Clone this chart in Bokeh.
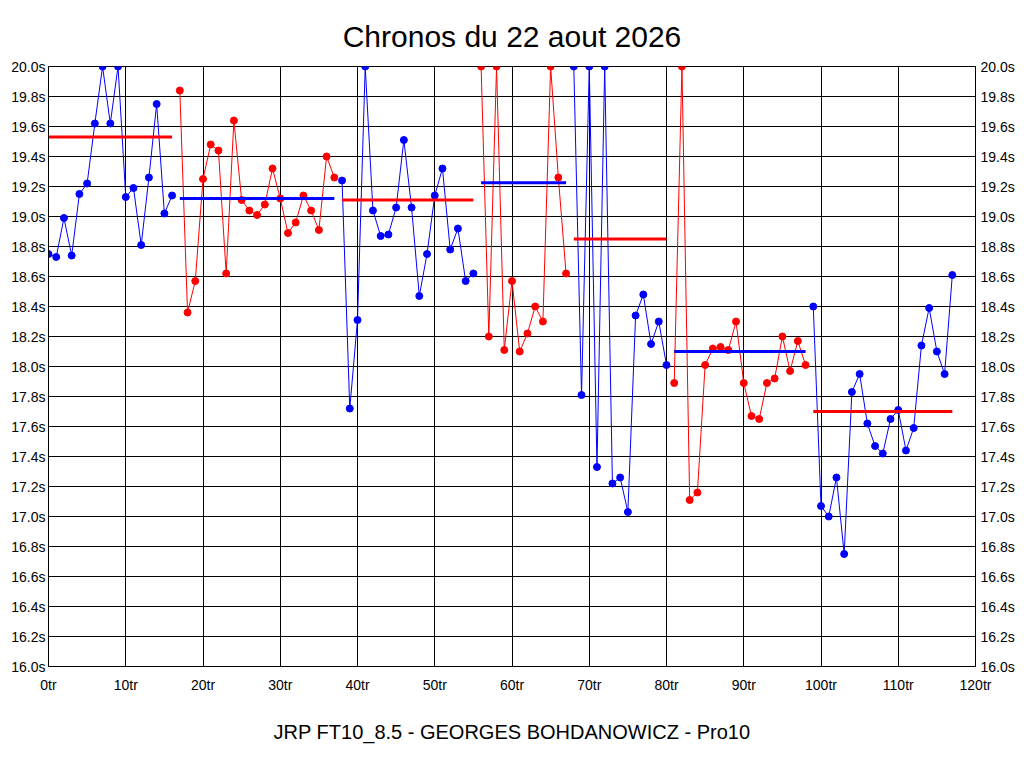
from bokeh.plotting import figure
from bokeh.models import (LinearAxis, FixedTicker, PrintfTickFormatter, Title, Range1d)
from bokeh.embed import file_html
from bokeh.resources import INLINE

# ---- data ----
seg1_laps = list(range(0, 17))
seg1_times = [18.75, 18.73, 18.99, 18.74, 19.15, 19.22, 19.62, 20.0, 19.62, 20.0,
              19.13, 19.19, 18.81, 19.26, 19.75, 19.02, 19.14]
seg2_laps = list(range(17, 38))
seg2_times = [19.84, 18.36, 18.57, 19.25, 19.48, 19.44, 18.62, 19.64, 19.11, 19.04,
              19.01, 19.08, 19.32, 19.12, 18.89, 18.96, 19.14, 19.04, 18.91, 19.40, 19.26]
seg3_laps = list(range(38, 56))
seg3_times = [19.24, 17.72, 18.31, 20.0, 19.04, 18.87, 18.88, 19.06, 19.51, 19.06,
              18.47, 18.75, 19.14, 19.32, 18.78, 18.92, 18.57, 18.62]
seg4_laps = list(range(56, 68))
seg4_times = [20.0, 18.20, 20.0, 18.11, 18.57, 18.10, 18.22, 18.40, 18.30, 20.0, 19.26, 18.62]
seg5_laps = list(range(68, 81))
seg5_times = [20.0, 17.81, 20.0, 17.33, 20.0, 17.22, 17.26, 17.03, 18.34, 18.48, 18.15, 18.30, 18.01]
seg6_laps = list(range(81, 99))
seg6_times = [17.89, 20.0, 17.11, 17.16, 18.01, 18.12, 18.13, 18.11, 18.30, 17.89,
              17.67, 17.65, 17.89, 17.92, 18.20, 17.97, 18.17, 18.01]
seg7_laps = list(range(99, 118))
seg7_times = [18.40, 17.07, 17.00, 17.26, 16.75, 17.83, 17.95, 17.62, 17.47, 17.42,
              17.65, 17.71, 17.44, 17.59, 18.14, 18.39, 18.10, 17.95, 18.61]

seg_laps = [seg1_laps, seg2_laps, seg3_laps, seg4_laps, seg5_laps, seg6_laps, seg7_laps]
seg_times = [seg1_times, seg2_times, seg3_times, seg4_times, seg5_times, seg6_times, seg7_times]
seg_colors = ["blue", "red", "blue", "red", "blue", "red", "blue"]
avg_values = [19.53, 19.12, 19.11, 19.225, 18.85, 18.10, 17.70]
avg_colors = ["red", "blue", "red", "blue", "red", "blue", "red"]

x_ticks = list(range(0, 121, 10))
y_ticks = [round(16.0 + 0.2 * i, 1) for i in range(21)]

title_text = "Chronos du 22 aout 2026"
footer_text = "JRP FT10_8.5 - GEORGES BOHDANOWICZ - Pro10"

FONT = "Liberation Sans"

p = figure(width=1024, height=768, output_backend="svg", toolbar_location=None,
           x_range=Range1d(0, 120), y_range=Range1d(16, 20),
           min_border_left=48, min_border_right=49, min_border_top=66, min_border_bottom=102)

p.title.text = title_text
p.title.text_font = FONT
p.title.text_font_size = "30px"
p.title.text_font_style = "normal"
p.title.align = "center"
p.title.text_color = "black"
p.title.standoff = 28

footer = Title(text=footer_text, align="center", text_font=FONT,
               text_font_size="20px", text_font_style="normal", text_color="black",
               standoff=46)
p.add_layout(footer, "below")

right_axis = LinearAxis()
p.add_layout(right_axis, "right")

for ax in [p.xaxis[0], p.yaxis[0], right_axis]:
    ax.major_tick_in = 0
    ax.major_tick_out = 0
    ax.minor_tick_in = 0
    ax.minor_tick_out = 0
    ax.axis_line_color = "black"
    ax.major_label_text_font = FONT
    ax.major_label_text_font_size = "14px"
    ax.major_label_text_color = "black"

p.xaxis[0].ticker = FixedTicker(ticks=x_ticks)
p.xaxis[0].formatter = PrintfTickFormatter(format="%dtr")
p.xaxis[0].major_label_standoff = 10
for ax in [p.yaxis[0], right_axis]:
    ax.ticker = FixedTicker(ticks=y_ticks)
    ax.formatter = PrintfTickFormatter(format="%.1fs")
p.yaxis[0].major_label_standoff = 3
right_axis.major_label_standoff = 5

p.xgrid.ticker = FixedTicker(ticks=x_ticks)
p.ygrid.ticker = FixedTicker(ticks=y_ticks)
for g in [p.xgrid[0], p.ygrid[0]]:
    g.grid_line_color = "black"
    g.grid_line_alpha = 1.0
    g.grid_line_width = 1

p.outline_line_color = "black"
p.background_fill_color = "white"
p.border_fill_color = "white"

for laps, times, col in zip(seg_laps, seg_times, seg_colors):
    p.line(laps, times, line_color=col, line_width=1)
    p.scatter(laps, times, size=7, fill_color=col, line_color=col)

for laps, avg, col in zip(seg_laps, avg_values, avg_colors):
    p.line([laps[0], laps[-1]], [avg, avg], line_color=col, line_width=3)

open("out.html", "w").write(file_html(p, INLINE))
